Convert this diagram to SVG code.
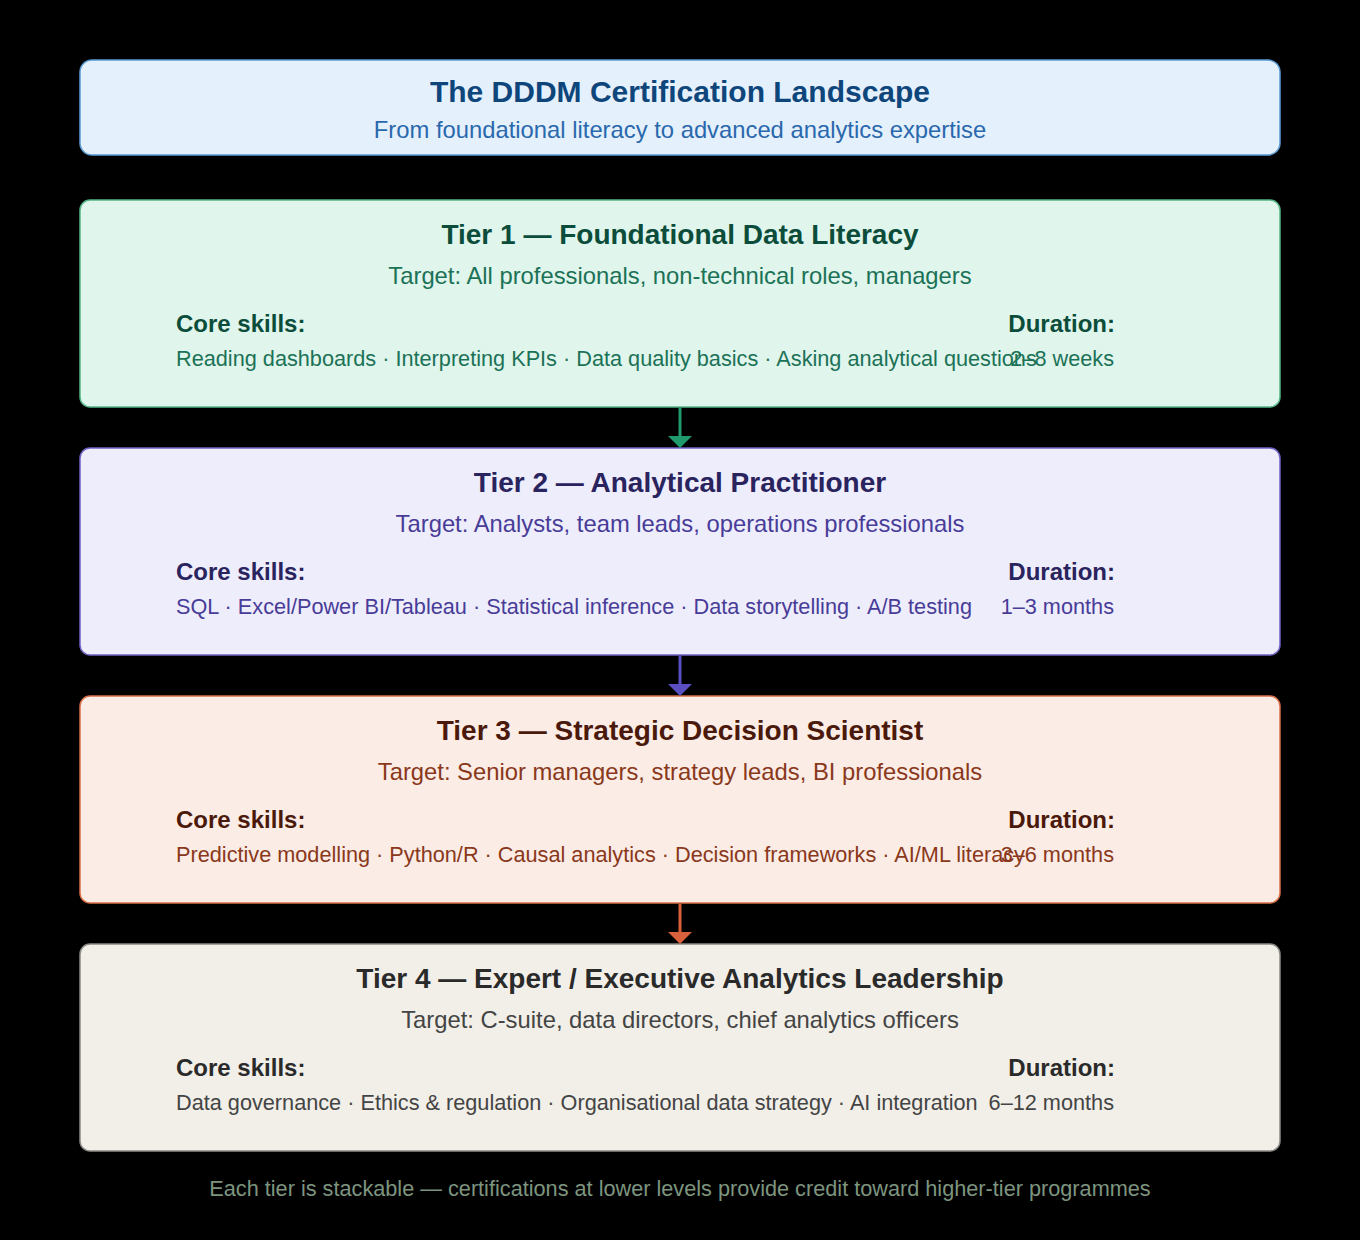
<svg xmlns="http://www.w3.org/2000/svg" width="1360" height="1240" viewBox="0 0 1360 1240">
<style>
text{font-family:"Liberation Sans",Arial,sans-serif}
.t{font-size:28px;font-weight:bold;text-anchor:middle}
.s{font-size:23.8px;text-anchor:middle}
.h{font-size:24px;font-weight:bold}
.k{font-size:21.7px}
.r{text-anchor:end}
.box{stroke-width:1.5}
</style>
<rect width="1360" height="1240" fill="#000"/>
<g id="header">
<rect class="box" x="80" y="60" width="1200" height="95" rx="12" fill="#e4f0fb" stroke="#5b9bd5"/>
<text class="t" x="680" y="102" fill="#0e467c" style="font-size:30px">The DDDM Certification Landscape</text>
<text class="s" x="680" y="138" fill="#2a68ad">From foundational literacy to advanced analytics expertise</text>
</g>
<g id="tier1">
<rect class="box" x="80" y="200" width="1200" height="207" rx="10" fill="#e0f5ec" stroke="#55b586"/>
<text class="t" x="680" y="244" fill="#0b4d3a">Tier 1 — Foundational Data Literacy</text>
<text class="s" x="680" y="284" fill="#1b7257">Target: All professionals, non-technical roles, managers</text>
<text class="h" x="176" y="332" fill="#0b4d3a">Core skills:</text>
<text class="k" x="176" y="366" fill="#1b7257">Reading dashboards · Interpreting KPIs · Data quality basics · Asking analytical questions</text>
<text class="h r" x="1115" y="332" fill="#0b4d3a">Duration:</text>
<text class="k r" x="1114" y="366" fill="#1b7257">2–8 weeks</text>
</g>
<g id="tier2">
<rect class="box" x="80" y="448" width="1200" height="207" rx="10" fill="#eeedfc" stroke="#6e63c4"/>
<text class="t" x="680" y="492" fill="#29235e">Tier 2 — Analytical Practitioner</text>
<text class="s" x="680" y="532" fill="#483c98">Target: Analysts, team leads, operations professionals</text>
<text class="h" x="176" y="580" fill="#29235e">Core skills:</text>
<text class="k" x="176" y="614" fill="#483c98">SQL · Excel/Power BI/Tableau · Statistical inference · Data storytelling · A/B testing</text>
<text class="h r" x="1115" y="580" fill="#29235e">Duration:</text>
<text class="k r" x="1114" y="614" fill="#483c98">1–3 months</text>
</g>
<g id="tier3">
<rect class="box" x="80" y="696" width="1200" height="207" rx="10" fill="#fbece5" stroke="#d9704a"/>
<text class="t" x="680" y="740" fill="#4a190b">Tier 3 — Strategic Decision Scientist</text>
<text class="s" x="680" y="780" fill="#8a381b">Target: Senior managers, strategy leads, BI professionals</text>
<text class="h" x="176" y="828" fill="#4a190b">Core skills:</text>
<text class="k" x="176" y="862" fill="#8a381b">Predictive modelling · Python/R · Causal analytics · Decision frameworks · AI/ML literacy</text>
<text class="h r" x="1115" y="828" fill="#4a190b">Duration:</text>
<text class="k r" x="1114" y="862" fill="#8a381b">3–6 months</text>
</g>
<g id="tier4">
<rect class="box" x="80" y="944" width="1200" height="207" rx="10" fill="#f1efe8" stroke="#8c8b86"/>
<text class="t" x="680" y="988" fill="#2a2a2a">Tier 4 — Expert / Executive Analytics Leadership</text>
<text class="s" x="680" y="1028" fill="#444">Target: C-suite, data directors, chief analytics officers</text>
<text class="h" x="176" y="1076" fill="#2a2a2a">Core skills:</text>
<text class="k" x="176" y="1110" fill="#444">Data governance · Ethics &amp; regulation · Organisational data strategy · AI integration</text>
<text class="h r" x="1115" y="1076" fill="#2a2a2a">Duration:</text>
<text class="k r" x="1114" y="1110" fill="#444">6–12 months</text>
</g>
<g id="connectors">
<line x1="680" y1="408" x2="680" y2="437" stroke="#1f9a6c" stroke-width="3"/>
<polygon points="668,436 692,436 680,448" fill="#1f9a6c"/>
<line x1="680" y1="656" x2="680" y2="685" stroke="#5a4fc0" stroke-width="3"/>
<polygon points="668,684 692,684 680,696" fill="#5a4fc0"/>
<line x1="680" y1="904" x2="680" y2="933" stroke="#d8603a" stroke-width="3"/>
<polygon points="668,932 692,932 680,944" fill="#d8603a"/>
</g>
<text x="680" y="1196" font-size="21.7" text-anchor="middle" fill="#7d957f">Each tier is stackable — certifications at lower levels provide credit toward higher-tier programmes</text>
</svg>
